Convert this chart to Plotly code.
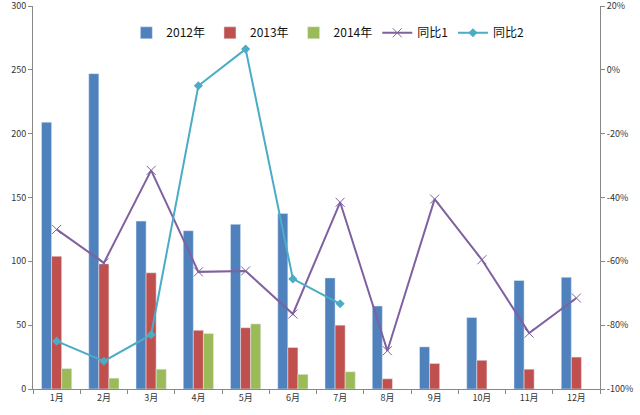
import plotly.graph_objects as go

months = ["1月", "2月", "3月", "4月", "5月", "6月", "7月", "8月", "9月", "10月", "11月", "12月"]
y2012 = [209, 247, 131.5, 124, 129, 137.5, 87, 65, 33, 56, 85, 87.5]
y2013 = [104, 98, 91, 46, 48, 32.5, 50, 8, 20, 22.5, 15.5, 25]
y2014 = [16, 8.5, 15.5, 43.5, 51, 11.5, 13.5]
yoy1 = [-50, -60.5, -31.5, -63.3, -63, -76.5, -41.5, -88, -40.5, -59.5, -82.5, -71.5]
yoy2 = [-85, -91.3, -83, -5, 6.5, -65.5, -73.3]
left_ticks = [0, 50, 100, 150, 200, 250, 300]
right_ticks = [-100, -80, -60, -40, -20, 0, 20]

font_family = "Noto Sans CJK SC, Noto Sans, sans-serif"

fig = go.Figure()
fig.add_trace(go.Bar(x=months, y=y2012, name="2012年", marker_color="#4F81BD"))
fig.add_trace(go.Bar(x=months, y=y2013, name="2013年", marker_color="#C0504D"))
fig.add_trace(go.Bar(x=months[:len(y2014)], y=y2014, name="2014年", marker_color="#9BBB59"))
fig.add_trace(go.Scatter(x=months, y=yoy1, name="同比1", yaxis="y2", mode="lines+markers",
                         line=dict(color="#7F60A0", width=2),
                         marker=dict(symbol="x-thin", size=9, line=dict(color="#7F60A0", width=1))))
fig.add_trace(go.Scatter(x=months[:len(yoy2)], y=yoy2, name="同比2", yaxis="y2", mode="lines+markers",
                         line=dict(color="#4BACC6", width=2),
                         marker=dict(symbol="diamond", size=7, color="#4BACC6")))

fig.update_layout(
    width=640, height=415,
    margin=dict(l=33, r=40, t=6, b=26, autoexpand=False),
    paper_bgcolor="white", plot_bgcolor="white",
    barmode="group", bargap=0.36, bargroupgap=0,
    font=dict(family=font_family, size=9, color="#333333"),
    showlegend=True,
    legend=dict(orientation="h", x=0.52, xanchor="center", y=0.93, yanchor="middle",
                font=dict(size=12, color="#111111"), bgcolor="rgba(0,0,0,0)",
                tracegroupgap=0),
    xaxis=dict(range=[-0.5, len(months) - 0.5], showline=True, linecolor="#888888", linewidth=1,
               ticks="outside", tickson="boundaries", ticklen=4, tickcolor="#888888",
               showgrid=False, tickfont=dict(size=9), automargin=False),
    yaxis=dict(range=[0, 300], tickmode="array", tickvals=left_ticks, showline=True,
               linecolor="#888888", linewidth=1, ticklabeloverflow="allow",
               ticks="outside", ticklen=4, tickcolor="#888888", showgrid=False, zeroline=False,
               tickfont=dict(size=9), automargin=False),
    yaxis2=dict(range=[-100, 20], tickmode="array", tickvals=right_ticks,
                ticktext=[f"{v}%" for v in right_ticks], overlaying="y", side="right",
                showline=True, linecolor="#888888", linewidth=1, ticks="outside", ticklen=4,
                ticklabeloverflow="allow",
                tickcolor="#888888", showgrid=False, zeroline=False, tickfont=dict(size=9),
                automargin=False),
)

fig.write_html("out.html")
